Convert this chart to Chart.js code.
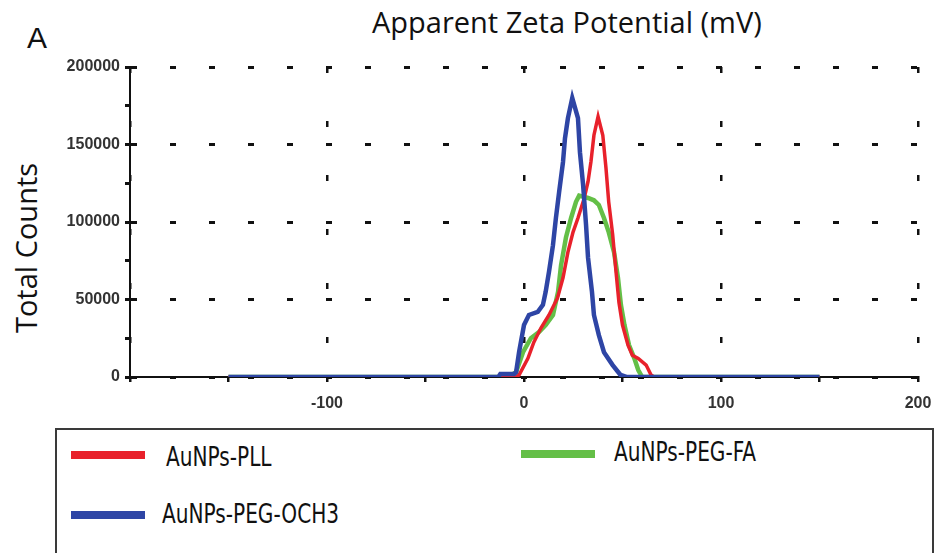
<!DOCTYPE html>
<html>
<head>
<meta charset="utf-8">
<script src="https://cdn.jsdelivr.net/npm/chart.js@4/dist/chart.umd.min.js"></script>
<style>
    body { margin: 0; background: #fff; }
    #lienzo { position: relative; width: 936px; height: 553px; background: #fff; overflow: hidden; }
    #panel { position: absolute; left: 27px; top: 21px; font: 30px "Liberation Sans", Arial, sans-serif; color: #111; }
    #titulo { position: absolute; left: 372px; top: 2px; font: 29px "Open Sans", sans-serif; color: #111; white-space: nowrap; }
    #tituloY { position: absolute; left: 25px; top: 248px; transform: translate(-50%, -50%) rotate(-90deg);
               font: 29px "Open Sans", sans-serif; color: #111; white-space: nowrap; }
    #contenedor { position: absolute; left: 0; top: 0; width: 936px; height: 420px; }
    #leyenda { position: absolute; left: 55px; top: 428px; width: 875px; height: 160px; border: 2px solid #3a3a3a; }
    .muestra { position: absolute; width: 74px; height: 8px; }
    .etiqueta { position: absolute; font: 26px "Liberation Sans Narrow", "DejaVu Sans Condensed", sans-serif;
                color: #111; white-space: nowrap; transform-origin: left center;
                transform: translateY(-50%) scaleX(0.86); }
</style>
</head>
<body>
<div id="lienzo">
    <div id="panel">A</div>
    <div id="titulo">Apparent Zeta Potential (mV)</div>
    <div id="tituloY">Total Counts</div>
    <div id="contenedor"><canvas id="grafico"></canvas></div>
    <div id="leyenda"></div>
</div>
<script>
// Etiquetas de los ejes
const etiquetasX = ['-100', '0', '100', '200'];
const etiquetasY = ['0', '50000', '100000', '150000', '200000'];

// AuNPs-PLL
const potencialPLL = [-150, -4, -2.5, 2, 5, 8.6, 12.7, 17, 19.8, 22.3, 24.9, 27.4, 30.5, 32.5, 34, 35.5, 37.6, 40, 41.6, 43, 45, 46.7, 48.2, 50, 52.8, 55, 58, 62, 64.5, 66, 150];
const cuentasPLL = [0, 0, 1300, 12000, 22500, 31600, 40000, 51000, 64000, 80600, 93500, 102600, 115000, 126000, 139000, 156000, 168000, 156000, 135000, 113000, 92000, 68000, 48000, 33500, 20600, 14000, 12000, 7700, 1300, 0, 0];

// AuNPs-PEG-OCH3
const potencialOCH3 = [-150, -13, -12, -5, -4, -2.5, 0, 2.5, 7, 9.6, 11, 12.7, 14.7, 16.2, 17.8, 19.8, 20.8, 22.3, 24.5, 27.4, 28.4, 30, 31.5, 32.5, 34.5, 35.5, 38, 40.6, 45, 49, 52, 150];
const cuentasOCH3 = [0, 0, 2000, 2000, 3200, 16000, 33500, 40000, 42000, 46500, 55000, 68000, 85000, 102600, 119000, 138700, 154000, 167000, 180000, 167000, 145000, 124000, 98000, 77000, 55000, 40000, 27000, 16000, 7700, 1300, 0, 0];

// AuNPs-PEG-FA
const potencialFA = [-150, -8, -4, -0.5, 3.5, 7.6, 11, 14.7, 17.3, 18.8, 21.3, 23.9, 26.4, 28, 32.5, 35.5, 38, 40.6, 43, 45.7, 47.7, 49.2, 51, 53.3, 56, 58, 60, 150];
const cuentasFA = [0, 0, 3200, 16000, 25000, 29000, 33500, 40000, 55000, 72000, 90000, 102600, 113000, 117000, 115500, 114000, 111000, 102600, 93500, 80600, 64000, 46500, 33500, 20600, 12000, 4500, 0, 0];

// Une los valores x/y en puntos para la escala lineal
function puntos(xs, ys) {
    return xs.map(function(x, i) { return { x: x, y: ys[i] }; });
}

// El primer dataset se dibuja encima
const series = [
    { label: 'AuNPs-PEG-OCH3', color: '#2e45a5', ancho: 4.5, data: puntos(potencialOCH3, cuentasOCH3) },
    { label: 'AuNPs-PLL', color: '#e8212b', ancho: 3.5, data: puntos(potencialPLL, cuentasPLL) },
    { label: 'AuNPs-PEG-FA', color: '#64bf47', ancho: 4.5, data: puntos(potencialFA, cuentasFA) }
];

const ctx = document.getElementById('grafico').getContext('2d');
const chart = new Chart(ctx, {
    type: 'line',
    data: {
        datasets: series.map(function(s) {
            return {
                label: s.label,
                data: s.data,
                borderColor: s.color,
                backgroundColor: s.color,
                borderWidth: s.ancho,
                pointRadius: 0,
                tension: 0,
                fill: false
            };
        })
    },
    options: {
        responsive: true,
        maintainAspectRatio: false,
        animation: false,
        layout: { padding: { top: 67, right: 18, left: 0, bottom: 0 } },
        plugins: {
            legend: { display: false },
            tooltip: { enabled: false }
        },
        scales: {
            x: {
                type: 'linear',
                min: -200,
                max: 200,
                // altura fija del eje y sin margen extra a la derecha
                afterFit: function(axis) {
                    axis.height = 43;
                    axis.paddingRight = 0;
                    axis.paddingLeft = 0;
                },
                ticks: {
                    stepSize: 50,
                    maxRotation: 0,
                    autoSkip: false,
                    padding: 12,
                    color: '#333',
                    font: { family: 'Liberation Sans', size: 16, weight: 'bold' },
                    callback: function(v) {
                        const t = String(v);
                        return etiquetasX.includes(t) ? t : '';
                    }
                },
                grid: {
                    color: function(c) {
                        return (c.tick && c.tick.value % 100 === 0) ? '#111' : 'rgba(0,0,0,0)';
                    },
                    tickColor: '#111',
                    tickLength: 5,
                    lineWidth: 2.5
                },
                border: { display: true, color: '#111', width: 2, dash: [6, 48] }
            },
            y: {
                min: 0,
                max: 200000,
                afterFit: function(axis) { axis.width = 130; },
                ticks: {
                    stepSize: 25000,
                    padding: 5,
                    color: '#333',
                    font: { family: 'Liberation Sans', size: 16, weight: 'bold' },
                    callback: function(v) {
                        const t = String(v);
                        return etiquetasY.includes(t) ? t : '';
                    }
                },
                grid: {
                    color: function(c) {
                        return (c.tick && c.tick.value % 50000 === 0) ? '#111' : 'rgba(0,0,0,0)';
                    },
                    tickColor: '#111',
                    tickLength: 5,
                    lineWidth: 3
                },
                border: { display: true, color: '#111', width: 2, dash: [6, 33] }
            }
        }
    }
});

// Leyenda en HTML: dos columnas, la serie azul en la segunda fila
const posiciones = {
    'AuNPs-PLL': { x: 14, y: 25, tx: 109, ty: 27 },
    'AuNPs-PEG-FA': { x: 464, y: 24, tx: 557, ty: 22 },
    'AuNPs-PEG-OCH3': { x: 14, y: 85, tx: 105, ty: 84 }
};
const leyenda = document.getElementById('leyenda');
['AuNPs-PLL', 'AuNPs-PEG-FA', 'AuNPs-PEG-OCH3'].forEach(function(nombre) {
    const s = series.find(function(d) { return d.label === nombre; });
    const p = posiciones[nombre];
    const linea = document.createElement('div');
    linea.className = 'muestra';
    linea.style.left = p.x + 'px';
    linea.style.top = (p.y - 4) + 'px';
    linea.style.background = s.color;
    leyenda.appendChild(linea);
    const texto = document.createElement('div');
    texto.className = 'etiqueta';
    texto.style.left = p.tx + 'px';
    texto.style.top = p.ty + 'px';
    texto.textContent = nombre;
    leyenda.appendChild(texto);
});
</script>
</body>
</html>
